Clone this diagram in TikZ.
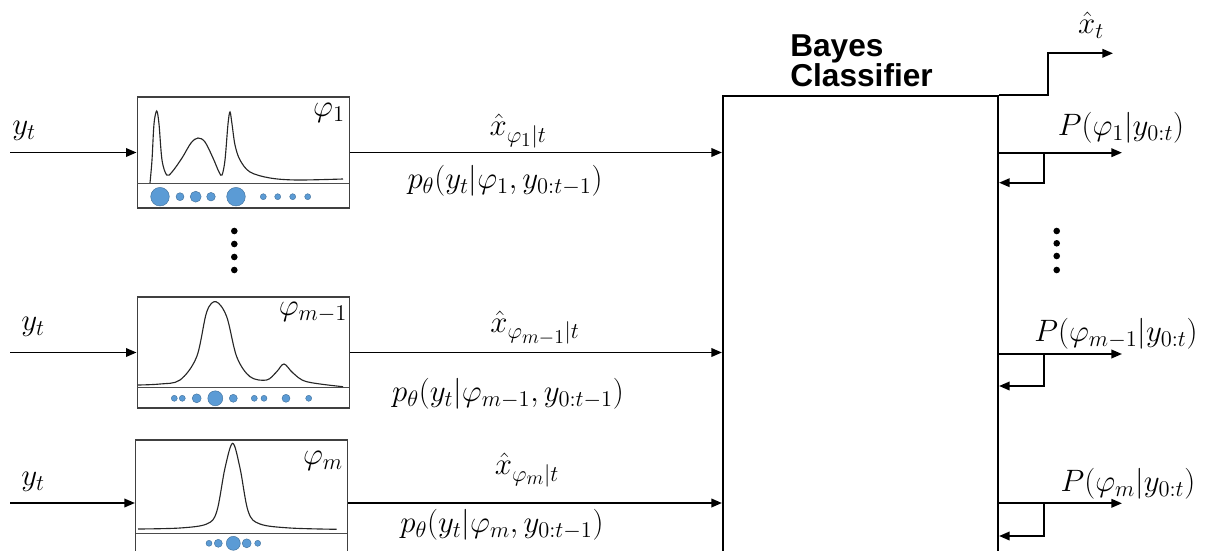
\documentclass[tikz,border=0pt]{standalone}
\usepackage{fix-cm}
\usepackage{amsmath}
\usepackage{fontspec}
\newfontfamily\titlefont{Liberation Sans}
\DeclareMathSizes{22}{22}{16}{14}
\usepackage{tikz}
\usetikzlibrary{arrows.meta, positioning, calc}
\definecolor{dotblue}{RGB}{91,155,213}
\definecolor{dotedge}{RGB}{65,113,156}
\tikzset{
  filter/.style={rectangle, draw=black!75, line width=1pt, minimum width=5.3cm,
                 inner sep=0pt},
  classifier/.style={rectangle, draw, line width=1.4pt, minimum width=6.875cm,
                 minimum height=12.6cm, inner sep=0pt},
  arrow/.style={-{Triangle[length=7.5pt,width=6pt]}, line width=1.4pt},
  lbl/.style={font=\fontsize{22}{26}\selectfont, inner sep=0pt},
  density/.style={line width=0.8pt, black!85},
  axisline/.style={line width=1pt, black!70},
  particle/.style={fill=dotblue, draw=dotedge, line width=0.3pt}
}

\begin{document}
\begin{tikzpicture}[x=0.025cm, y=-0.025cm]
    \useasboundingbox (0,0) rectangle (1207,551);
    \clip (0,0) rectangle (1207,551);

    % particle filters
    \node[filter, minimum height=2.78cm] (filt1) at (243.3,152.5) {};
    \node[filter, minimum height=2.78cm] (filt2) at (243.3,352.5) {};
    \node[filter, minimum height=3.15cm] (filt3) at (241.7,503) {};
    \node[classifier] (bayes) at (860.5,348) {};
    \node[font=\titlefont\bfseries\fontsize{22.5}{22}\selectfont, align=left,
          anchor=north west, inner sep=0pt] (title) at (790,34) {Bayes\\Classifier};

    \node[lbl] (phi1) at (329,113) {$\varphi_1$};
    \node[lbl] (phi2) at (313,312) {$\varphi_{m-1}$};
    \node[lbl] (phi3) at (323,461) {$\varphi_m$};

    % densities and particles
    \draw[axisline] (137,183.3) -- (349,183.3);
    \draw[density] plot[smooth, tension=0.55] coordinates {(150,183) (152,160) (154,124)
      (156.7,111) (159,124) (162,160) (166.7,175) (172,172) (182,158) (191,143)
      (198,138) (205,142) (213,158) (219,172) (222,175) (225,160) (228,124) (230,112)
      (232,124) (235,145) (240,160) (250,172) (270,178) (297,180) (343,179)};
    \foreach \px/\pr in {160/9.3, 180/4, 195.7/5.5, 211/4.3, 236/9.3, 263.3/3,
                         277.7/3, 292.7/3, 307.7/3}
      \draw[particle] (\px,196.7) circle (\pr);

    \draw[axisline] (137,387.7) -- (349,387.7);
    \draw[density] plot[smooth, tension=0.55] coordinates {(138,385) (160,384) (180,380)
      (196.7,356.7) (206.7,312) (216,301.7) (226.7,316.7) (236.7,356.7) (250,376.7)
      (266.7,380) (276.7,371.7) (284,364) (293,373) (306.7,381.7) (343,386.7)};
    \foreach \px/\pr in {174.3/3, 182.3/3, 196.7/4.5, 215.3/7.5, 233.3/4, 254.3/3,
                         264/3, 286/4, 308.7/3}
      \draw[particle] (\px,398.3) circle (\pr);

    \draw[axisline] (136,533.3) -- (347,533.3);
    \draw[density] plot[smooth, tension=0.55] coordinates {(138,529) (180,528) (206.7,524)
      (216.7,511.7) (225,468) (232.7,443.3) (240,468) (248.3,511.7) (260,524)
      (290,528) (336.7,529.3)};
    \foreach \px/\pr in {209/3, 218.3/4, 233.3/7, 246.7/4.5, 257.7/3}
      \draw[particle] (\px,543.3) circle (\pr);

    % inputs
    \coordinate (in1) at (10,152.5);
    \coordinate (in2) at (10,352.5);
    \coordinate (in3) at (10,503);
    \node[lbl] (yt1) at (24,131) {$y_t$};
    \node[lbl] (yt2) at (33,327) {$y_t$};
    \node[lbl] (yt3) at (33,482) {$y_t$};
    \draw[arrow] (in1) -- (filt1.west);
    \draw[arrow] (in2) -- (filt2.west);
    \draw[arrow] (in3) -- (filt3.west);

    % filter outputs
    \draw[arrow] (filt1.east) -- (filt1.east -| bayes.west);
    \draw[arrow] (filt2.east) -- (filt2.east -| bayes.west);
    \draw[arrow] (filt3.east) -- (filt3.east -| bayes.west);
    \node[lbl] (xh1) at (518,131) {$\hat{x}_{\varphi_1|t}$};
    \node[lbl] (pt1) at (505,181) {$p_\theta(y_t|\varphi_1, y_{0:t-1})$};
    \node[lbl] (xh2) at (535,328) {$\hat{x}_{\varphi_{m-1}|t}$};
    \node[lbl] (pt2) at (508,394) {$p_\theta(y_t|\varphi_{m-1}, y_{0:t-1})$};
    \node[lbl] (xh3) at (527,470) {$\hat{x}_{\varphi_m|t}$};
    \node[lbl] (pt3) at (502,525) {$p_\theta(y_t|\varphi_m, y_{0:t-1})$};

    \foreach \py in {231,244,257,270}
      \fill (234.3,\py) circle (3.3);
    \foreach \py in {231,243.3,256,270}
      \fill (1056.7,\py) circle (3.3);

    % classifier outputs
    \coordinate (xhat) at (1113,53.3);
    \node[lbl] (xt) at (1091,25) {$\hat{x}_t$};
    \draw[arrow] (bayes.north east) -- ++(49,0) |- (xhat);

    \coordinate (out1) at (1122,152.7);
    \coordinate (out2) at (1122,354);
    \coordinate (out3) at (1122,503.3);
    \coordinate (fb1) at (1044,182.7);
    \coordinate (fb2) at (1044,386);
    \coordinate (fb3) at (1044,536);
    \node[lbl] (post1) at (1121,128) {$P(\varphi_1|y_{0:t})$};
    \node[lbl] (post2) at (1116,334) {$P(\varphi_{m-1}|y_{0:t})$};
    \node[lbl] (post3) at (1128,484) {$P(\varphi_m|y_{0:t})$};
    \foreach \i in {1,2,3} {
      \draw[arrow] (bayes.east |- out\i) -- (out\i);
      \draw[arrow] (fb\i |- out\i) -- (fb\i) -- (bayes.east |- fb\i);
    }
\end{tikzpicture}
\end{document}
